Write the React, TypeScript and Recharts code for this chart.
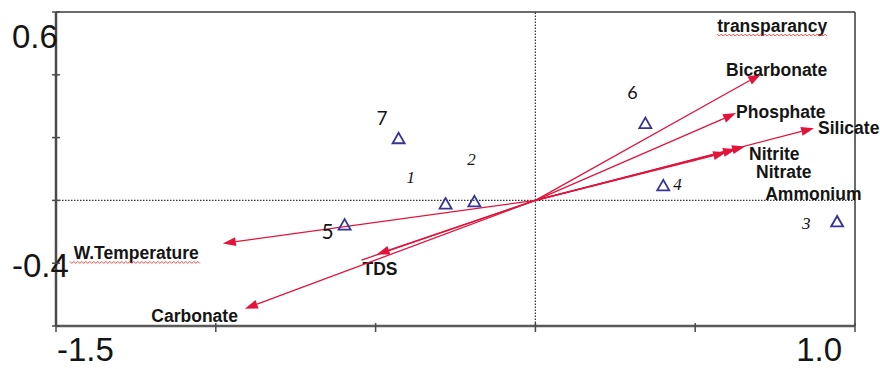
import React from 'react';
import { ScatterChart, Scatter, XAxis, YAxis, ReferenceLine, ReferenceDot } from 'recharts';

// environmental variables drawn as arrows from the origin
const envNames = ['Bicarbonate', 'Phosphate', 'Silicate', 'Nitrite', 'Nitrate', 'Ammonium', 'W.Temperature', 'TDS', '', 'Carbonate'];
const envX = [0.706, 0.628, 0.872, 0.656, 0.628, 0.597, -0.978, -0.497, -0.544, -0.909];
const envY = [0.402, 0.278, 0.23, 0.172, 0.163, 0.153, -0.137, -0.172, -0.19, -0.345];

// sampling sites
const siteIds = ['1', '2', '3', '4', '5', '6', '7'];
const siteX = [-0.281, -0.191, 0.944, 0.4, -0.597, 0.344, -0.428];
const siteY = [-0.01, -0.003, -0.067, 0.048, -0.077, 0.246, 0.198];

// axes
const xTicks = [-1.5, -1, -0.5, 0, 0.5, 1];
const xTickText = ['-1.5', '', '', '', '', '1.0'];
const yTicks = [-0.4, -0.2, 0, 0.2, 0.4, 0.6];
const yTickText = ['-0.4', '', '', '', '', '0.6'];
const X_MIN = -1.5;
const X_MAX = 1;
const Y_MIN = -0.4;
const Y_MAX = 0.6;

// label that has no arrow of its own
const extraLabel = 'transparancy';
const extraPos = { x: 0.569, y: 0.536 };

const W = 880;
const H = 369;
const M = { top: 12, right: 25, bottom: 43, left: 56 };

const RED = '#e2143c';
const NAVY = '#34349a';
const INK = '#151515';
const AXIS = '#4a4a4a';
const LABEL_FONT = { fontFamily: 'Liberation Sans, Arial, sans-serif', fontWeight: 700, fontSize: 17.5, fill: INK };
const TICK_FONT = { fontFamily: 'Liberation Sans, Arial, sans-serif', fontSize: 33, fill: INK };

// per-arrow label placement (pixels from the arrow tip)
const envLabel = [
  { dx: -35, dy: 2, anchor: 'start' },
  { dx: 0, dy: 5, anchor: 'start' },
  { dx: 4, dy: 6, anchor: 'start' },
  { dx: 4, dy: 14, anchor: 'start' },
  { dx: 20, dy: 29, anchor: 'start' },
  { dx: 39, dy: 48, anchor: 'start' },
  { dx: -24, dy: 16, anchor: 'end', wavy: 129 },
  { dx: -14, dy: 21, anchor: 'start' },
  null,
  { dx: -7, dy: 13, anchor: 'end' },
];
const envHead = [true, true, true, true, true, true, true, true, false, true];

// per-site label placement and type
const siteLabel = [
  { dx: -39, dy: -21, italic: true, size: 17 },
  { dx: -7, dy: -36, italic: true, size: 17 },
  { dx: -35, dy: 8, italic: true, size: 17 },
  { dx: 10, dy: 5, italic: true, size: 17 },
  { dx: -23, dy: 14, italic: false, size: 21 },
  { dx: -18, dy: -24, italic: false, size: 18 },
  { dx: -22, dy: -13, italic: false, size: 19 },
];

const sites = siteIds.map((id, i) => ({ id, x: siteX[i], y: siteY[i] }));

function squiggle(x: number, y: number, w: number) {
  const pts: string[] = [];
  for (let i = 0; i <= Math.round(w / 2); i++) {
    pts.push(`${x + i * 2},${y + (i % 2 === 0 ? 0 : 2)}`);
  }
  return <polyline points={pts.join(' ')} fill="none" stroke="#e8322a" strokeWidth={0.9} />;
}

const arrowShape = (i: number) => (p: any) => {
  const { x1, y1, x2, y2 } = p;
  const dx = x2 - x1;
  const dy = y2 - y1;
  const len = Math.hypot(dx, dy) || 1;
  const ux = dx / len;
  const uy = dy / len;
  const hl = 13;
  const hw = 4.5;
  const bx = x2 - ux * hl;
  const by = y2 - uy * hl;
  const lab = envLabel[i];
  const lx = x2 + (lab ? lab.dx : 0);
  const ly = y2 + (lab ? lab.dy : 0);
  return (
    <g>
      <line x1={x1} y1={y1} x2={envHead[i] ? bx : x2} y2={envHead[i] ? by : y2} stroke={RED} strokeWidth={1.3} />
      {envHead[i] && (
        <polygon
          points={`${x2},${y2} ${bx - uy * hw},${by + ux * hw} ${bx + uy * hw},${by - ux * hw}`}
          fill={RED}
        />
      )}
      {lab && (
        <text x={lx} y={ly} textAnchor={lab.anchor as any} {...LABEL_FONT}>
          {envNames[i]}
        </text>
      )}
      {lab && lab.wavy && squiggle(lab.anchor === 'end' ? lx - lab.wavy : lx, ly + 2, lab.wavy)}
    </g>
  );
};

const siteShape = (p: any) => {
  const { cx, cy, payload } = p;
  const i = siteIds.indexOf(payload.id);
  const s = siteLabel[i];
  return (
    <g>
      <polygon
        points={`${cx},${cy - 5.5} ${cx - 6},${cy + 5} ${cx + 6},${cy + 5}`}
        fill="none"
        stroke={NAVY}
        strokeWidth={1.8}
      />
      <text
        x={cx + s.dx}
        y={cy + s.dy}
        fontSize={s.size}
        fontStyle={s.italic ? 'italic' : 'normal'}
        fontFamily={s.italic ? 'Liberation Serif, serif' : 'Lato, sans-serif'}
        fill={INK}
      >
        {payload.id}
      </text>
    </g>
  );
};

// tick marks cross the axis line; only the end values carry a label
const xTickShape = (i: number) => (p: any) => (
  <g>
    <line x1={p.cx} x2={p.cx} y1={p.cy - 3} y2={p.cy + 6} stroke={AXIS} strokeWidth={1.5} />
    {xTickText[i] && (
      <text x={i === 0 ? p.cx + 1 : p.cx - 13} y={p.cy + 35} textAnchor={i === 0 ? 'start' : 'end'} {...TICK_FONT}>
        {xTickText[i]}
      </text>
    )}
  </g>
);

const yTickShape = (i: number) => (p: any) => (
  <g>
    <line x1={p.cx - 4} x2={p.cx + 4} y1={p.cy} y2={p.cy} stroke={AXIS} strokeWidth={1.5} />
    {yTickText[i] && (
      <text x={p.cx - 44} y={p.cy + (i === 0 ? -49 : 36)} {...TICK_FONT}>
        {yTickText[i]}
      </text>
    )}
  </g>
);

const extraShape = (p: any) => (
  <g>
    <text x={p.cx} y={p.cy} {...LABEL_FONT}>
      {extraLabel}
    </text>
    {squiggle(p.cx, p.cy + 2, 110)}
  </g>
);

export default function App() {
  return (
    <div style={{ position: 'absolute', left: 0, top: 0, background: '#fff' }}>
      <ScatterChart width={W} height={H} margin={M}>
        <XAxis type="number" dataKey="x" domain={[X_MIN, X_MAX]} hide />
        <YAxis type="number" dataKey="y" domain={[Y_MIN, Y_MAX]} hide />
        {/* frame */}
        <ReferenceLine y={Y_MAX} stroke="#3a3a3a" strokeWidth={1.5} />
        <ReferenceLine x={X_MAX} stroke="#3a3a3a" strokeWidth={1.5} />
        <ReferenceLine x={0} stroke="#333" strokeWidth={1.2} strokeDasharray="1.5 1.5" />
        <ReferenceLine y={0} stroke="#333" strokeWidth={1.2} strokeDasharray="1.5 1.5" />
        <ReferenceLine x={X_MIN} stroke={AXIS} strokeWidth={2.5} />
        <ReferenceLine y={Y_MIN} stroke="#5a5a5a" strokeWidth={2.5} />
        {xTicks.map((v, i) => (
          <ReferenceDot key={`xt${i}`} x={v} y={Y_MIN} ifOverflow="visible" shape={xTickShape(i)} />
        ))}
        {yTicks.map((v, i) => (
          <ReferenceDot key={`yt${i}`} x={X_MIN} y={v} ifOverflow="visible" shape={yTickShape(i)} />
        ))}
        {envNames.map((n, i) => (
          <ReferenceLine
            key={`env${i}`}
            ifOverflow="visible"
            segment={[
              { x: 0, y: 0 },
              { x: envX[i], y: envY[i] },
            ]}
            shape={arrowShape(i)}
          />
        ))}
        <ReferenceDot x={extraPos.x} y={extraPos.y} ifOverflow="visible" shape={extraShape} />
        <Scatter data={sites} shape={siteShape} isAnimationActive={false} />
      </ScatterChart>
    </div>
  );
}
